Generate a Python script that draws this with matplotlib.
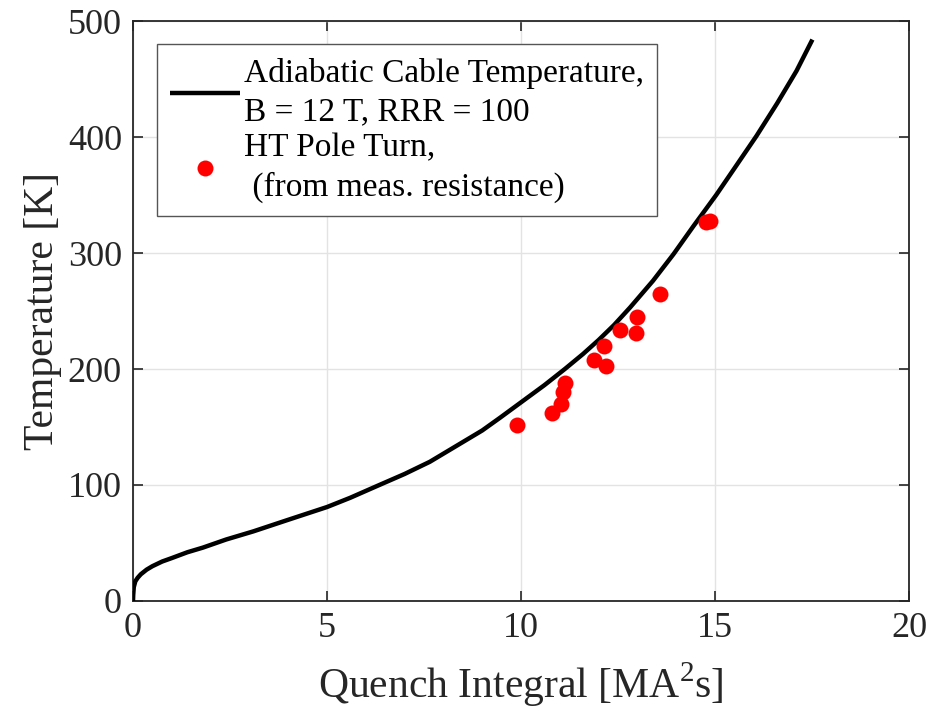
import matplotlib.pyplot as plt
import numpy as np

# adiabatic cable temperature curve
quench_integral = [0.0, 0.005, 0.02, 0.06, 0.12, 0.2, 0.35, 0.5, 0.75, 1.0, 1.4, 1.8,
                   2.4, 3.1, 4.0, 5.0, 5.6, 6.28, 7.0, 7.65, 8.5, 9.0, 9.46, 10.03,
                   10.6, 11.13, 11.6, 12.0, 12.4, 12.81, 13.4, 13.93, 14.44, 15.03,
                   15.5, 16.07, 16.6, 17.1, 17.51]
temperature = [0, 5, 12, 17, 20, 23, 27, 30, 34, 37, 42, 46,
               53, 60, 70, 81, 89, 99, 109.5, 120, 137, 147, 158, 172,
               186, 200, 213, 225, 238, 253, 276, 299, 323, 350,
               373, 401, 429, 457, 484]

# HT pole turn, from measured resistance
meas_qi = [9.89, 10.79, 11.02, 11.07, 11.13, 11.89, 12.19, 12.14, 12.55,
           12.96, 12.98, 13.58, 14.78, 14.88]
meas_temp = [152, 162, 170, 180, 188, 208, 203, 220, 234, 231, 245, 265, 327, 328]

plt.rcParams['font.family'] = ['Liberation Serif', 'DejaVu Serif']
plt.rcParams['mathtext.fontset'] = 'custom'
plt.rcParams['mathtext.rm'] = 'Liberation Serif'

fig = plt.figure(figsize=(9.42, 7.2), dpi=100)
ax = fig.add_axes([0.1412, 0.1653, 0.8238, 0.8055])

ax.plot(quench_integral, temperature, color='black', linewidth=3.2,
        label='Adiabatic Cable Temperature,\nB = 12 T, RRR = 100', zorder=3,
        solid_capstyle='butt')
ax.plot(meas_qi, meas_temp, linestyle='none', marker='o', markersize=11.5,
        color='#ff0000', markeredgewidth=0,
        label='HT Pole Turn,\n (from meas. resistance)', zorder=4)

ax.set_xlim(0, 20)
ax.set_ylim(0, 500)
ax.set_xticks([0, 5, 10, 15, 20])
ax.set_yticks([0, 100, 200, 300, 400, 500])
ax.grid(True, color='#e3e3e3', linewidth=1.0)
ax.set_axisbelow(True)

ax.tick_params(direction='in', length=7, width=1.2, top=True, right=True,
               labelsize=26, colors='#262626', pad=8)
for s in ax.spines.values():
    s.set_color('#262626')
    s.set_linewidth(1.3)

ax.set_xlabel(r'Quench Integral [MA$^{2}$s]', fontsize=30, color='#262626', labelpad=11)
ax.set_ylabel('Temperature [K]', fontsize=30, color='#262626', labelpad=4)

leg = ax.legend(loc='upper left', bbox_to_anchor=(0.031, 0.960), fontsize=24,
                fancybox=False, framealpha=1, edgecolor='#555555',
                handlelength=2.1, handletextpad=0.1, borderpad=0.4,
                labelspacing=0.15, borderaxespad=0)
leg.get_frame().set_linewidth(1.0)
for t in leg.get_texts():
    t.set_linespacing(1.36)

fig.savefig('out.png', dpi=100)
